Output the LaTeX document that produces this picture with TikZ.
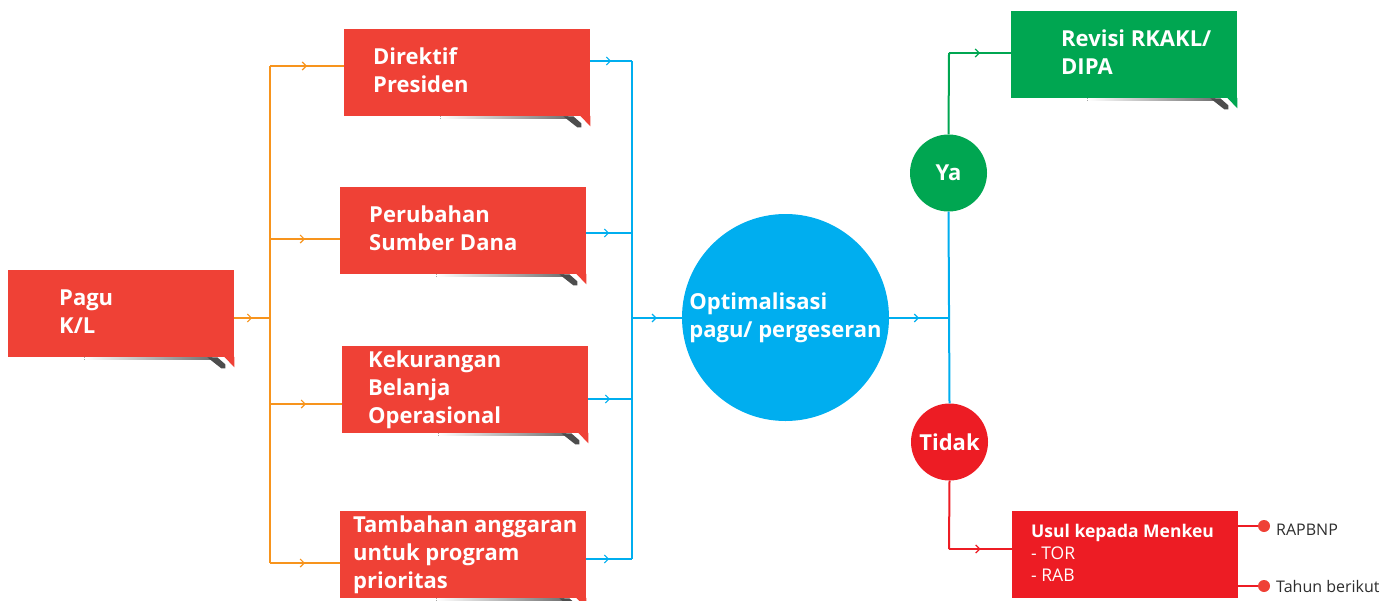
\documentclass[tikz,border=0pt]{standalone}
\usepackage{fontspec}
\setmainfont{Open Sans}
\usetikzlibrary{arrows.meta,decorations.markings,calc}

\definecolor{boxred}{RGB}{239,65,54}
\definecolor{hotred}{RGB}{237,28,36}
\definecolor{leafgreen}{RGB}{0,166,81}
\definecolor{skyblue}{RGB}{0,174,239}
\definecolor{amber}{RGB}{247,148,29}
\definecolor{foldgray}{RGB}{77,77,77}
\definecolor{ink}{RGB}{45,45,45}

% card body: total width #1, left indent #2, left-aligned lines #3
\newcommand\cardtext[3]{\makebox[#1pt][l]{\hspace*{#2pt}\begin{tabular}{@{}l@{}}#3\end{tabular}}}

% folded-ribbon shadow under the lower right corner of a card
\newcommand\cardfold[2]{%
  \fill[left color=white, right color=foldgray!80]
    ($(#1.south east)+(-150,0)$) rectangle ($(#1.south east)+(-22,2.5)$);
  \fill[foldgray]
    ($(#1.south east)+(-27,0)$) -- ($(#1.south east)+(-17,0)$) --
    ($(#1.south east)+(-9,7)$) -- ($(#1.south east)+(-9,11)$) --
    ($(#1.south east)+(-13,11)$) -- cycle;
  \fill[#2]
    ($(#1.south east)+(-10,-0.5)$) -- ($(#1.south east)+(0,-0.5)$) --
    ($(#1.south east)+(0,10)$) -- cycle;
}

\tikzset{
  card/.style={rectangle, fill=boxred, anchor=north west, minimum height=87pt,
    inner xsep=0pt, inner ysep=0pt, text=white,
    font=\bfseries\fontsize{22}{28}\selectfont},
  bubble/.style={circle, inner sep=0pt, text=white, align=left,
    font=\bfseries\fontsize{22}{28}\selectfont},
  wire/.style={line width=2pt},
  midarrow/.style={postaction={decorate}, decoration={markings,
    mark=at position 0.5 with {\arrow{Straight Barb[length=4pt,width=8pt,line width=1.2pt]}}}},
  endpoint/.style={circle, fill=boxred, minimum size=12pt, inner sep=0pt},
  note/.style={anchor=base west, inner sep=0pt, text=ink,
    font=\fontsize{16}{19}\selectfont}
}

\begin{document}
\begin{tikzpicture}[x=1pt,y=-1pt]
\useasboundingbox (0,0) rectangle (1397,600);

% ---- source and the four reasons ----
\node[card] (pagu) at (8,270) {\cardtext{226}{51}{Pagu\\K/L}};
\node[card] (dir) at (344,29) {\cardtext{246}{29}{Direktif\\Presiden}};
\node[card] (sum) at (340,187) {\cardtext{246}{29}{Perubahan\\Sumber Dana}};
\node[card] (kur) at (342,346) {\cardtext{246}{26}{Kekurangan\\Belanja\\Operasional}};
\node[card] (tam) at (340,511) {\cardtext{246}{13}{Tambahan anggaran\\untuk program\\prioritas}};

\cardfold{pagu}{boxred}
\cardfold{dir}{boxred}
\cardfold{sum}{boxred}
\cardfold{kur}{boxred}
\cardfold{tam}{boxred}

% ---- decision ----
\node[bubble, fill=skyblue, minimum size=207pt] (opt) at (785.5,317.5) {Optimalisasi\\pagu/ pergeseran};
\node[bubble, fill=leafgreen, minimum size=77pt, align=center] (ya) at (948.5,173) {Ya};
\node[bubble, fill=hotred, minimum size=77pt, align=center] (tidak) at (949.5,442) {Tidak};

% ---- outcomes ----
\node[card, fill=leafgreen] (rev) at (1011,11) {\cardtext{226}{50}{Revisi RKAKL/\\DIPA}};
\cardfold{rev}{leafgreen}
\node[card, fill=hotred, font=\fontsize{17.5}{22}\selectfont] (usul) at (1012,511)
  {\cardtext{226}{19}{\textbf{Usul kepada Menkeu}\\- TOR\\- RAB}};

% ---- orange fan-out from Pagu K/L ----
\coordinate (o0) at (270,318);
\coordinate (o1) at (270,66);
\coordinate (o2) at (270,239);
\coordinate (o3) at (270,404);
\coordinate (o4) at (270,563);
\draw[wire, amber, midarrow] (o0 -| pagu.east) -- (o0);
\draw[wire, amber] (o1) -- (o4);
\draw[wire, amber, midarrow] (o1) -- (o1 -| dir.west);
\draw[wire, amber, midarrow] (o2) -- (o2 -| sum.west);
\draw[wire, amber, midarrow] (o3) -- (o3 -| kur.west);
\draw[wire, amber, midarrow] (o4) -- (o4 -| tam.west);

% ---- blue fan-in to the decision ----
\coordinate (b0) at (632,318);
\coordinate (b1) at (632,61);
\coordinate (b2) at (632,233);
\coordinate (b3) at (632,399);
\coordinate (b4) at (632,559);
\draw[wire, skyblue, midarrow] (b1 -| dir.east) -- (b1);
\draw[wire, skyblue, midarrow] (b2 -| sum.east) -- (b2);
\draw[wire, skyblue, midarrow] (b3 -| kur.east) -- (b3);
\draw[wire, skyblue, midarrow] (b4 -| tam.east) -- (b4);
\draw[wire, skyblue] (b1) -- (b4);
\draw[wire, skyblue, midarrow] (b0) -- (b0 -| opt.west);

% ---- branches of the decision ----
\coordinate (j0) at (949,318);
\draw[wire, skyblue, midarrow] (j0 -| opt.east) -- (j0);
\draw[wire, skyblue] (ya.south) -- (tidak.north);

\coordinate (g0) at (949,53);
\draw[wire, leafgreen] (ya.north) -- (g0);
\draw[wire, leafgreen, midarrow] (g0) -- (g0 -| rev.west);

\coordinate (r0) at (949,549);
\draw[wire, hotred] (tidak.south) -- (r0);
\draw[wire, hotred, midarrow] (r0) -- (r0 -| usul.west);

% ---- follow-ups of the proposal ----
\node[endpoint] (e1) at (1264,526) {};
\node[endpoint] (e2) at (1264,586) {};
\draw[wire, hotred] (e1 -| usul.east) -- (e1);
\draw[wire, hotred] (e2 -| usul.east) -- (e2);
\node[note] (t1) at (1276,535) {RAPBNP};
\node[note] (t2) at (1276,592) {Tahun berikut};
\end{tikzpicture}
\end{document}
